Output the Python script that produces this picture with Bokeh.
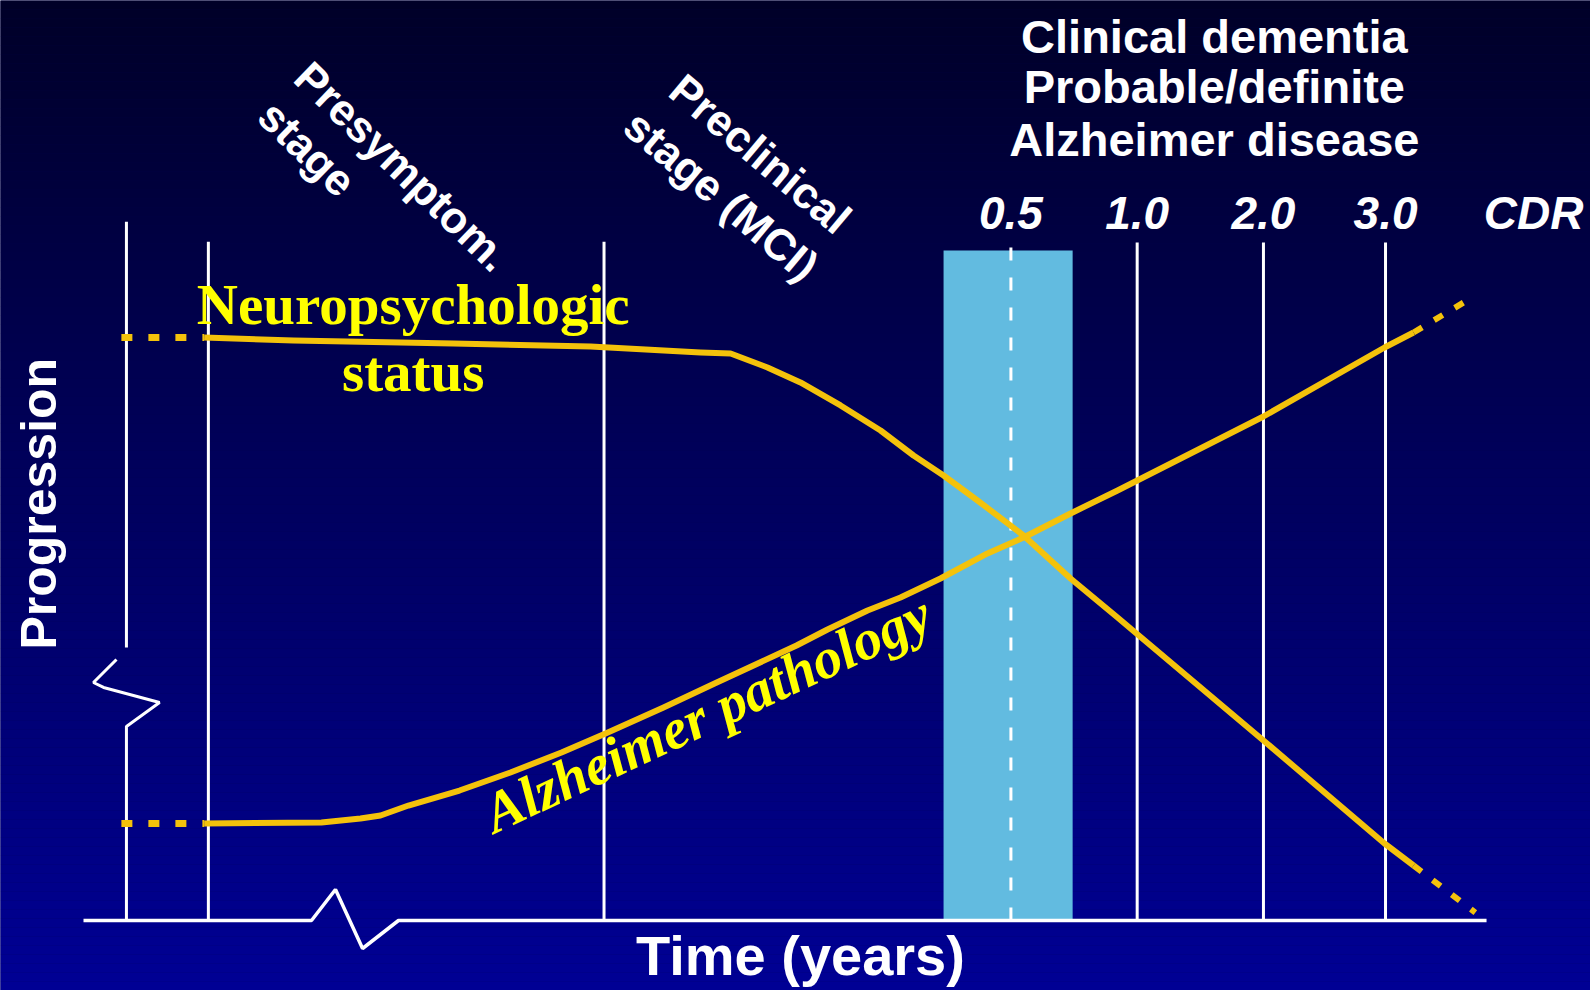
import numpy as np
from bokeh.plotting import figure
from bokeh.models import Range1d
from bokeh.core.properties import value
from bokeh.embed import file_html
from bokeh.resources import INLINE

# ---------------------------------------------------------------------------
# Data: time runs 0..100 along the x-axis, progression 0..100 up to the top
# of the CDR 0.5 band.
# ---------------------------------------------------------------------------
stage_bounds_t = [8.9, 37.1]           # presymptomatic / preclinical boundaries
stage_top = 101.3

cdr_labels = ["0.5", "1.0", "2.0", "3.0"]
cdr_t = [66.1, 75.1, 84.1, 92.8]
cdr_top = 101.2
cdr_band_t = [61.3, 70.5]
cdr_band_top = 100.0
cdr_title_t = 103.35
cdr_label_y = 105.6

# Neuropsychologic status (declining)
neuro_t = [8.6, 14.97, 26.37, 36.14, 43.98, 46.12, 48.75, 51.10, 53.96, 56.81,
           59.16, 61.30, 63.72, 67.00, 70.35, 73.70, 75.05, 84.10, 92.73, 94.80]
neuro_y = [87.0, 86.57, 86.12, 85.67, 84.78, 84.63, 82.54, 80.30, 76.87, 73.13,
           69.40, 66.42, 62.69, 57.46, 51.04, 45.22, 42.84, 26.87, 11.49, 8.21]
neuro_lead_t = [2.7, 8.6]
neuro_lead_y = [87.0, 87.0]
neuro_tail_t = [94.8, 99.2]
neuro_tail_y = [8.21, 1.19]

# Alzheimer pathology (rising)
path_t = [8.6, 16.96, 19.74, 21.17, 23.16, 26.80, 30.43, 34.07, 37.21, 41.34,
          44.98, 50.82, 53.03, 55.88, 58.23, 61.08, 64.43, 67.00, 70.35, 73.70,
          84.10, 92.73, 94.80]
path_y = [14.48, 14.63, 15.22, 15.67, 17.16, 19.40, 22.09, 25.07, 27.91, 31.79,
          35.37, 41.04, 43.43, 46.27, 48.21, 51.04, 54.78, 57.16, 60.75, 64.18,
          75.22, 85.52, 87.76]
path_lead_t = [2.7, 8.6]
path_lead_y = [14.48, 14.48]
path_tail_t = [94.8, 99.2]
path_tail_y = [87.76, 93.28]

# Axes with break marks
yaxis_t = 3.06
yaxis_upper = [40.75, 104.3]
yaxis_break_t = [2.35, 0.71, 1.43, 5.42, 3.06, 3.06]
yaxis_break_y = [38.96, 35.52, 34.78, 32.54, 28.96, 0.0]
xaxis_t = [0.0, 16.25, 17.96, 19.89, 22.45, 100.0]
xaxis_y = [0.0, 0.0, 4.63, -4.18, 0.0, 0.0]

# ---------------------------------------------------------------------------
W, H = 1590, 990
p = figure(width=W, height=H, output_backend="svg", toolbar_location=None,
           x_range=Range1d(-5.916, 107.41), y_range=Range1d(-10.448, 137.31),
           min_border=0, x_axis_location=None, y_axis_location=None)
p.grid.visible = False
p.outline_line_color = None
p.background_fill_color = "#000050"
p.border_fill_color = "#000050"

# vertical background gradient: dark navy at top, brighter blue at bottom
n = 110
y0, y1 = p.y_range.start, p.y_range.end
edges = np.linspace(y0, y1, n + 1)
frac_from_top = (y1 - (edges[:-1] + edges[1:]) / 2.0) / (y1 - y0)
blues = (0x28 + (0x94 - 0x28) * frac_from_top).round().astype(int)
colors = ["#0000%02x" % b for b in blues]
p.quad(left=-10, right=120, bottom=edges[:-1], top=edges[1:] + 0.02,
       fill_color=colors, line_color=None)

# CDR 0.5 band
p.quad(left=[cdr_band_t[0]], right=[cdr_band_t[1]], bottom=[0], top=[cdr_band_top],
       fill_color="#62bbe0", line_color=None)

WHITE = "#ffffff"
# stage boundary and CDR lines
for t in stage_bounds_t:
    p.line([t, t], [0, stage_top], line_color=WHITE, line_width=3)
for t in cdr_t[1:]:
    p.line([t, t], [0, cdr_top], line_color=WHITE, line_width=3)
p.line([cdr_t[0], cdr_t[0]], [0, cdr_top], line_color=WHITE, line_width=3,
       line_dash="13 17")

# axes
p.line([yaxis_t, yaxis_t], yaxis_upper, line_color=WHITE, line_width=3)
p.line(yaxis_break_t, yaxis_break_y, line_color=WHITE, line_width=3)
p.line(xaxis_t, xaxis_y, line_color=WHITE, line_width=3.5)

# curves
GOLD = "#f4c20b"
for tt, yy in [(neuro_t, neuro_y), (path_t, path_y)]:
    p.line(tt, yy, line_color=GOLD, line_width=6, line_join="round")
for tt, yy in [(neuro_lead_t, neuro_lead_y), (path_lead_t, path_lead_y)]:
    p.line(tt, yy, line_color=GOLD, line_width=7, line_dash="11 16")
for tt, yy in [(neuro_tail_t, neuro_tail_y), (path_tail_t, path_tail_y)]:
    p.line(tt, yy, line_color=GOLD, line_width=6, line_dash="10 14")

SANS = value("Liberation Sans")
SERIF = value("Liberation Serif")
YELLOW = "#ffff00"

# heading over the CDR scale
p.text(x=[80.6] * 3, y=[132.0, 124.5, 116.5],
       text=["Clinical dementia", "Probable/definite", "Alzheimer disease"],
       text_font=SANS, text_font_style="bold", text_font_size="47px",
       text_color=WHITE, text_align="center", text_baseline="alphabetic")

# CDR labels
p.text(x=cdr_t + [cdr_title_t], y=[cdr_label_y] * 5, text=cdr_labels + ["CDR"],
       text_font=SANS, text_font_style="bold italic", text_font_size="46px",
       text_color=WHITE, text_align="center", text_baseline="alphabetic")

# stage names
p.text(x=[15.6, 13.0], y=[127.0, 121.2], text=["Presymptom.", "stage"],
       angle=-44, angle_units="deg", text_font=SANS, text_font_style="bold",
       text_font_size="44px", text_color=WHITE, text_align="left",
       text_baseline="alphabetic")
p.text(x=[42.25, 39.0], y=[125.0, 119.6], text=["Preclinical", "stage (MCI)"],
       angle=-40, angle_units="deg", text_font=SANS, text_font_style="bold",
       text_font_size="44px", text_color=WHITE, text_align="left",
       text_baseline="alphabetic")

# axis titles
p.text(x=[-3.14], y=[62.2], text=["Progression"], angle=90, angle_units="deg",
       text_font=SANS, text_font_style="bold", text_font_size="50px",
       text_color=WHITE, text_align="center", text_baseline="alphabetic")
p.text(x=[51.1], y=[-5.2], text=["Time (years)"], text_font=SANS,
       text_font_style="bold", text_font_size="56px", text_color=WHITE,
       text_align="center", text_baseline="alphabetic")

# curve names
p.text(x=[23.5, 23.5], y=[91.9, 82.0], text=["Neuropsychologic", "status"],
       text_font=SERIF, text_font_style="bold", text_font_size="57px",
       text_color=YELLOW, text_align="center", text_baseline="alphabetic")
p.text(x=[28.75], y=[15.6], text=["Alzheimer pathology"], angle=25,
       angle_units="deg", text_font=SERIF, text_font_style="bold italic",
       text_font_size="57px", text_color=YELLOW, text_align="left",
       text_baseline="alphabetic")

open("out.html", "w").write(file_html(p, INLINE))
